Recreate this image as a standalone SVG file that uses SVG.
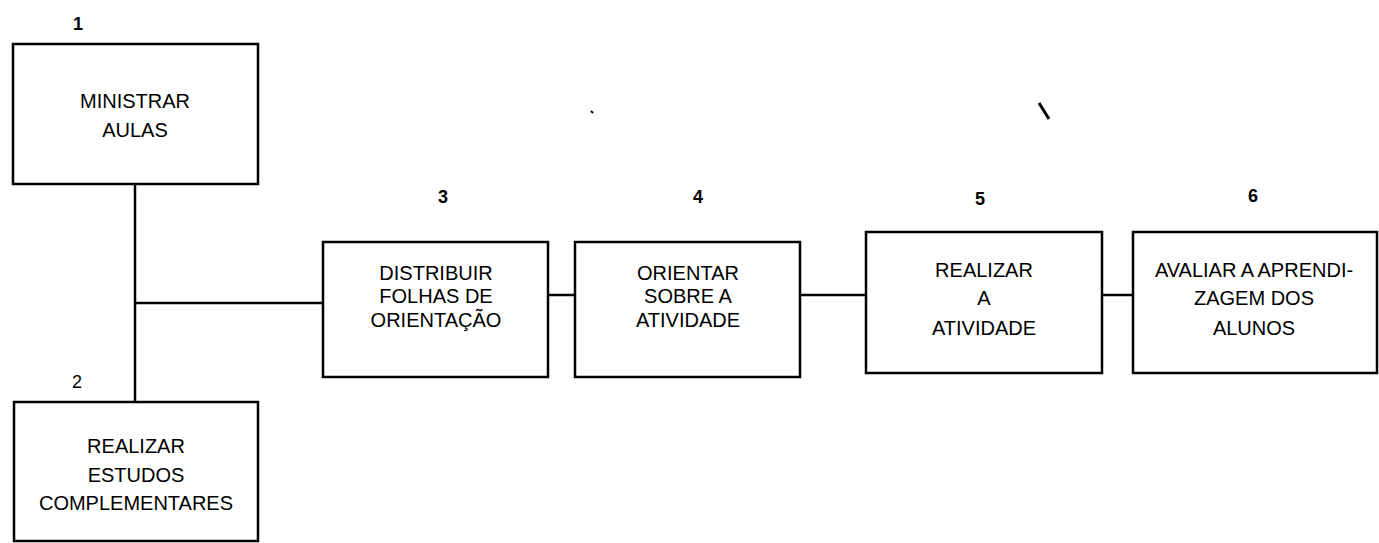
<svg xmlns="http://www.w3.org/2000/svg" width="1379" height="543" viewBox="0 0 1379 543">
<style>
.box{fill:#fff;stroke:#000;stroke-width:2.5}
.lbl{font-family:"Liberation Sans",Arial,sans-serif;font-size:20px;fill:#000;text-anchor:middle}
.num{font-family:"Liberation Sans",Arial,sans-serif;font-size:18px;font-weight:bold;fill:#000;text-anchor:middle}
.num2{font-family:"Liberation Sans",Arial,sans-serif;font-size:18px;fill:#000;text-anchor:middle}
.con{stroke:#000;stroke-width:2.5;fill:none}
</style>
<rect width="1379" height="543" fill="#fff"/>
<g id="connectors">
<line class="con" x1="135" y1="184" x2="135" y2="402"/>
<line class="con" x1="135" y1="303" x2="323" y2="303"/>
<line class="con" x1="548" y1="295" x2="575" y2="295"/>
<line class="con" x1="800" y1="295" x2="866" y2="295"/>
<line class="con" x1="1102" y1="295" x2="1133" y2="295"/>
</g>
<g id="node1">
<text class="num" x="78" y="30">1</text>
<rect class="box" x="13" y="44" width="245" height="140"/>
<text class="lbl" x="135" y="108">MINISTRAR</text>
<text class="lbl" x="135" y="137">AULAS</text>
</g>
<g id="node2">
<text class="num2" x="77" y="388">2</text>
<rect class="box" x="14" y="402" width="244" height="139"/>
<text class="lbl" x="136" y="453">REALIZAR</text>
<text class="lbl" x="136" y="482">ESTUDOS</text>
<text class="lbl" x="136" y="510">COMPLEMENTARES</text>
</g>
<g id="node3">
<text class="num" x="443" y="203">3</text>
<rect class="box" x="323" y="242" width="225" height="135"/>
<text class="lbl" x="436" y="280">DISTRIBUIR</text>
<text class="lbl" x="436" y="303">FOLHAS DE</text>
<text class="lbl" x="436" y="327">ORIENTAÇÃO</text>
</g>
<g id="node4">
<text class="num" x="698" y="203">4</text>
<rect class="box" x="575" y="242" width="225" height="135"/>
<text class="lbl" x="688" y="280">ORIENTAR</text>
<text class="lbl" x="688" y="303">SOBRE A</text>
<text class="lbl" x="688" y="327">ATIVIDADE</text>
</g>
<g id="node5">
<text class="num" x="980" y="205">5</text>
<rect class="box" x="866" y="232" width="236" height="141"/>
<text class="lbl" x="984" y="277">REALIZAR</text>
<text class="lbl" x="984" y="305">A</text>
<text class="lbl" x="984" y="335">ATIVIDADE</text>
</g>
<g id="node6">
<text class="num" x="1253" y="202">6</text>
<rect class="box" x="1133" y="232" width="244" height="141"/>
<text class="lbl" x="1254" y="277">AVALIAR A APRENDI-</text>
<text class="lbl" x="1254" y="305">ZAGEM DOS</text>
<text class="lbl" x="1254" y="335">ALUNOS</text>
</g>
<g id="specks">
<line x1="591" y1="111" x2="593" y2="113" stroke="#000" stroke-width="2"/>
<line x1="1039" y1="103" x2="1049" y2="119" stroke="#000" stroke-width="3"/>
</g>
</svg>
